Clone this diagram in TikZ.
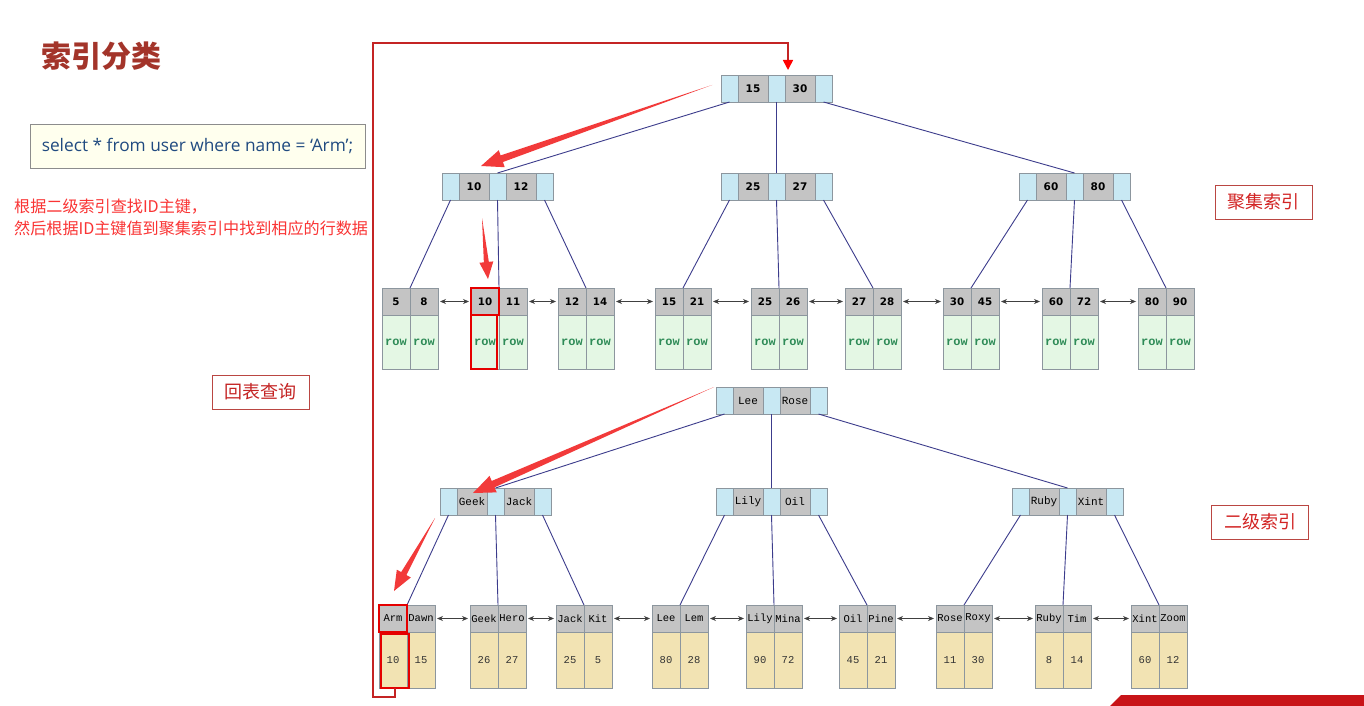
\documentclass[tikz,border=0pt]{standalone}
\usepackage{fontspec}
\setmainfont{Noto Sans CJK SC}
\newfontfamily\cjk{Noto Sans CJK SC}
\newfontfamily\qfont{Open Sans}
\newfontfamily\numfont{DejaVu Sans}
\newfontfamily\courfont{Liberation Mono}
\usetikzlibrary{arrows.meta,positioning,calc}
\definecolor{ptrc}{RGB}{200,232,243}
\definecolor{keyc}{RGB}{196,196,196}
\definecolor{cellline}{RGB}{140,150,158}
\definecolor{rowc}{RGB}{228,247,228}
\definecolor{rowtext}{RGB}{46,139,87}
\definecolor{valc}{RGB}{242,227,179}
\definecolor{linkc}{RGB}{60,60,140}
\definecolor{hlred}{RGB}{242,58,58}
\definecolor{pathred}{RGB}{196,36,36}
\definecolor{titlec}{RGB}{163,52,42}
\definecolor{boxred}{RGB}{186,70,66}
\definecolor{labelred}{RGB}{210,36,36}
\definecolor{notered}{RGB}{250,52,52}
\definecolor{qtextc}{RGB}{32,74,128}
\definecolor{qfill}{RGB}{255,255,238}
\definecolor{bannerc}{RGB}{200,20,24}
\tikzset{
  ptrcell/.style = {draw=cellline, fill=ptrc, minimum width=17pt, minimum height=27pt,
                    inner sep=0pt, outer sep=0pt},
  keynum/.style  = {draw=cellline, fill=keyc, minimum width=30pt, minimum height=27pt,
                    inner sep=0pt, outer sep=0pt, font=\numfont\bfseries\fontsize{10.5}{12}\selectfont},
  keyname/.style = {keynum, font=\courfont\fontsize{11}{12}\selectfont},
  headnum/.style = {draw=cellline, fill=keyc, minimum width=28pt, minimum height=27pt,
                    inner sep=0pt, outer sep=0pt, font=\numfont\bfseries\fontsize{10.3}{12}\selectfont},
  headname/.style= {headnum, font=\courfont\fontsize{10.5}{12}\selectfont},
  rowcell/.style = {draw=cellline, fill=rowc, minimum width=28pt, minimum height=54pt,
                    inner sep=0pt, outer sep=0pt, text=rowtext,
                    font=\courfont\bfseries\fontsize{12}{12}\selectfont},
  valcell/.style = {rowcell, fill=valc, minimum height=56pt, text=black!80,
                    font=\courfont\fontsize{10.5}{12}\selectfont},
  treelink/.style= {draw=linkc, line width=0.9pt},
  sibling/.style = {{Stealth[length=6pt,width=5pt]}-{Stealth[length=6pt,width=5pt]},
                    black!75, line width=0.8pt, shorten <=2pt, shorten >=2pt},
  hlbox/.style   = {draw=red!90!black, line width=1.8pt},
  backpath/.style= {draw=pathred, line width=1.6pt,
                    -{Triangle[length=10pt,width=10pt,color=red]}},
  idxlabel/.style= {draw=boxred, line width=0.9pt, text=labelred, minimum width=97pt,
                    minimum height=34pt, inner sep=0pt, font=\cjk\fontsize{18}{20}\selectfont},
}
% internal page: ptr | key | ptr | key | ptr
\newcommand{\keynode}[5]{%
  \node[ptrcell, anchor=north west] (#1-p1) at (#2) {};
  \node[#3, right=0pt of #1-p1] (#1-k1) {#4};
  \node[ptrcell, right=0pt of #1-k1] (#1-p2) {};
  \node[#3, right=0pt of #1-p2] (#1-k2) {#5};
  \node[ptrcell, right=0pt of #1-k2] (#1-p3) {};
}
% leaf page: two keys over two data cells
\newcommand{\leafnode}[8]{%
  \node[#3, anchor=north west] (#1-h1) at (#2) {#4};
  \node[#3, right=0pt of #1-h1] (#1-h2) {#5};
  \node[#6, below=0pt of #1-h1] (#1-v1) {#7};
  \node[#6, below=0pt of #1-h2] (#1-v2) {#8};
}
% tapered red pointer
\newcommand{\hlarrow}[5]{%
  \coordinate (hb) at ($(#2)!#3!(#1)$);
  \fill[hlred] (#1) -- ($(hb)!#5!90:(#2)$) -- ($(hb)!#4!90:(#2)$) -- (#2)
     -- ($(hb)!#4!-90:(#2)$) -- ($(hb)!#5!-90:(#2)$) -- cycle;
}

\begin{document}
\begin{tikzpicture}[x=1pt,y=-1pt]
\useasboundingbox (0,0) rectangle (1364,706);
\fill[white] (0,0) rectangle (1364,706);

% ---- left side texts ----
\node[anchor=west, text=titlec, font=\cjk\bfseries\fontsize{30}{32}\selectfont] (title) at (38,56) {索引分类};
\node[draw=black!45, fill=qfill, line width=0.8pt, minimum width=335pt, minimum height=44pt,
      text=qtextc, font=\qfont\fontsize{17.3}{18}\selectfont] (query) at (197.5,146)
      {select * from user where name = ‘Arm’;};
\node[anchor=north west, align=left, inner sep=0pt, text=notered,
      font=\cjk\fontsize{16.1}{22}\selectfont] (note) at (14,199)
      {根据二级索引查找ID主键，\\然后根据ID主键值到聚集索引中找到相应的行数据};
\node[idxlabel, text=pathred] (lookup) at (260.5,392) {回表查询};
\node[idxlabel] (clust) at (1263.5,202) {聚集索引};
\node[idxlabel] (second) at (1260,522) {二级索引};

% ---- clustered index ----
\keynode{tR}{721,75}{keynum}{15}{30}
\keynode{tA}{442,173}{keynum}{10}{12}
\keynode{tB}{721,173}{keynum}{25}{27}
\keynode{tC}{1019,173}{keynum}{60}{80}
\leafnode{tL1}{382,288}{headnum}{5}{8}{rowcell}{row}{row}
\leafnode{tL2}{471,288}{headnum}{10}{11}{rowcell}{row}{row}
\leafnode{tL3}{558,288}{headnum}{12}{14}{rowcell}{row}{row}
\leafnode{tL4}{655,288}{headnum}{15}{21}{rowcell}{row}{row}
\leafnode{tL5}{751,288}{headnum}{25}{26}{rowcell}{row}{row}
\leafnode{tL6}{845,288}{headnum}{27}{28}{rowcell}{row}{row}
\leafnode{tL7}{943,288}{headnum}{30}{45}{rowcell}{row}{row}
\leafnode{tL8}{1042,288}{headnum}{60}{72}{rowcell}{row}{row}
\leafnode{tL9}{1138,288}{headnum}{80}{90}{rowcell}{row}{row}
\draw[treelink] (tR-p1.south) -- (tA-p2.north);
\draw[treelink] (tR-p2.south) -- (tB-p2.north);
\draw[treelink] (tR-p3.south) -- (tC-p2.north);
\foreach \pg/\a/\b/\c in {tA/1/2/3, tB/4/5/6, tC/7/8/9} {
  \draw[treelink] (\pg-p1.south) -- (tL\a-h1.north east);
  \draw[treelink] (\pg-p2.south) -- (tL\b-h1.north east);
  \draw[treelink] (\pg-p3.south) -- (tL\c-h1.north east);
}
\foreach \i/\j in {1/2,2/3,3/4,4/5,5/6,6/7,7/8,8/9}
  \draw[sibling] (tL\i-h2.east) -- (tL\j-h1.west);

% ---- secondary index ----
\keynode{bR}{716,387}{keyname}{Lee}{Rose}
\keynode{bA}{440,488}{keyname}{Geek}{Jack}
\keynode{bB}{716,488}{keyname}{Lily}{Oil}
\keynode{bC}{1012,488}{keyname}{Ruby}{Xint}
\leafnode{bL1}{379,605}{headname}{Arm}{Dawn}{valcell}{10}{15}
\leafnode{bL2}{470,605}{headname}{Geek}{Hero}{valcell}{26}{27}
\leafnode{bL3}{556,605}{headname}{Jack}{Kit}{valcell}{25}{5}
\leafnode{bL4}{652,605}{headname}{Lee}{Lem}{valcell}{80}{28}
\leafnode{bL5}{746,605}{headname}{Lily}{Mina}{valcell}{90}{72}
\leafnode{bL6}{839,605}{headname}{Oil}{Pine}{valcell}{45}{21}
\leafnode{bL7}{936,605}{headname}{Rose}{Roxy}{valcell}{11}{30}
\leafnode{bL8}{1035,605}{headname}{Ruby}{Tim}{valcell}{8}{14}
\leafnode{bL9}{1131,605}{headname}{Xint}{Zoom}{valcell}{60}{12}
\draw[treelink] (bR-p1.south) -- (bA-p2.north);
\draw[treelink] (bR-p2.south) -- (bB-p2.north);
\draw[treelink] (bR-p3.south) -- (bC-p2.north);
\foreach \pg/\a/\b/\c in {bA/1/2/3, bB/4/5/6, bC/7/8/9} {
  \draw[treelink] (\pg-p1.south) -- (bL\a-h1.north east);
  \draw[treelink] (\pg-p2.south) -- (bL\b-h1.north east);
  \draw[treelink] (\pg-p3.south) -- (bL\c-h1.north east);
}
\foreach \i/\j in {1/2,2/3,3/4,4/5,5/6,6/7,7/8,8/9}
  \draw[sibling] (bL\i-h2.east) -- (bL\j-h1.west);

% ---- lookup path ----
\draw[hlbox] (tL2-h1.north west) rectangle (tL2-h1.south east);
\draw[hlbox] (tL2-v1.north west) rectangle ($(tL2-v1.south east)+(-2,0)$);
\draw[hlbox] (bL1-h1.north west) rectangle (bL1-h1.south east);
\draw[hlbox] ($(bL1-v1.north west)+(2,2)$) rectangle ($(bL1-v1.south east)+(2,0)$);
\coordinate (retcorner) at (373,43);
\draw[backpath] ($(bL1-v1.south)+(2,0)$) -- ++(0,9) -| (retcorner) -| ($(tR-k2.north west)+(3,-5)$);

\coordinate (ta1) at (712,85);   \coordinate (ta2) at (481,166);
\coordinate (tb1) at (482,218);  \coordinate (tb2) at (488,279);
\coordinate (ba1) at (714,387);  \coordinate (ba2) at (473,493);
\coordinate (bb1) at (435,518);  \coordinate (bb2) at (394,591);
\hlarrow{ta1}{ta2}{22pt}{9pt}{3.5pt}
\hlarrow{tb1}{tb2}{17pt}{7pt}{2.5pt}
\hlarrow{ba1}{ba2}{22pt}{9pt}{3.5pt}
\hlarrow{bb1}{bb2}{20pt}{8pt}{3pt}

% ---- corner banner ----
\fill[bannerc] (1110,706) -- (1121,695) -- (1364,695) -- (1364,706) -- cycle;

\end{tikzpicture}
\end{document}
